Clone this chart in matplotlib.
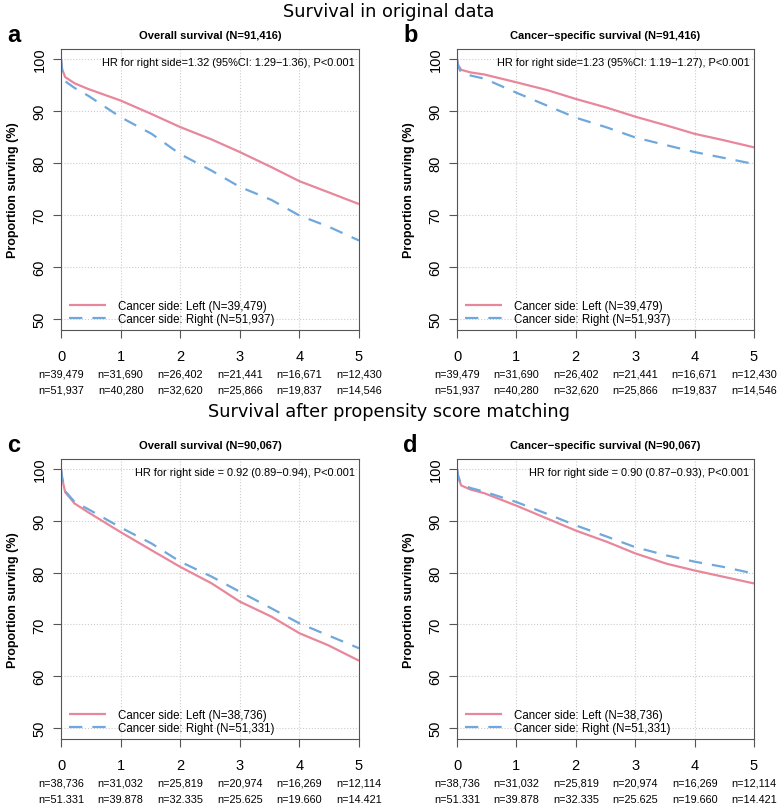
import numpy as np
import matplotlib
matplotlib.use("Agg")
import matplotlib.pyplot as plt

plt.rcParams['font.family'] = ['Liberation Sans', 'DejaVu Sans']

# time points (years)
t_pts = [0, 0.02, 0.07, 0.23, 0.46, 1, 1.52, 2, 2.53, 3, 3.53, 4, 4.48, 5]

# a: overall survival, original data
a_left = [100, 98.0, 96.5, 95.3, 94.2, 92.0, 89.4, 86.9, 84.5, 82.1, 79.2, 76.5, 74.4, 72.1]
a_right = [100, 97.6, 95.7, 94.4, 92.9, 88.8, 85.6, 81.7, 78.5, 75.4, 72.9, 69.9, 67.8, 65.1]
# b: cancer-specific survival, original data
b_left = [100, 98.8, 97.9, 97.4, 97.0, 95.5, 94.0, 92.3, 90.6, 88.9, 87.2, 85.6, 84.4, 83.0]
b_right = [100, 98.5, 97.4, 96.8, 96.2, 93.5, 91.0, 88.7, 86.8, 84.9, 83.4, 82.1, 81.0, 79.8]
# c: overall survival, matched
c_left = [100, 98.1, 95.5, 93.3, 91.6, 87.8, 84.3, 81.1, 77.9, 74.4, 71.5, 68.3, 66.0, 63.0]
c_right = [100, 98.3, 95.7, 93.6, 92.2, 88.7, 85.6, 82.1, 79.2, 76.3, 73.1, 70.2, 67.9, 65.4]
# d: cancer-specific survival, matched
d_left = [100, 98.4, 96.8, 96.0, 95.3, 92.9, 90.4, 88.1, 85.9, 83.7, 81.7, 80.4, 79.2, 77.9]
d_right = [100, 98.6, 97.0, 96.3, 95.6, 93.6, 91.3, 89.1, 86.9, 84.9, 83.3, 82.1, 81.1, 79.8]

years = [0, 1, 2, 3, 4, 5]
risk_orig_left = ["39,479", "31,690", "26,402", "21,441", "16,671", "12,430"]
risk_orig_right = ["51,937", "40,280", "32,620", "25,866", "19,837", "14,546"]
risk_psm_left = ["38,736", "31,032", "25,819", "20,974", "16,269", "12,114"]
risk_psm_right = ["51,331", "39,878", "32,335", "25,625", "19,660", "14,421"]

pink = '#E8879C'
blue = '#6FA8DC'

panels = [
    ("a", "Overall survival (N=91,416)", "HR for right side=1.32 (95%CI: 1.29\u22121.36), P<0.001",
     a_left, a_right, "39,479", "51,937", risk_orig_left, risk_orig_right),
    ("b", "Cancer\u2212specific survival (N=91,416)", "HR for right side=1.23 (95%CI: 1.19\u22121.27), P<0.001",
     b_left, b_right, "39,479", "51,937", risk_orig_left, risk_orig_right),
    ("c", "Overall survival (N=90,067)", "HR for right side = 0.92 (0.89\u22120.94), P<0.001",
     c_left, c_right, "38,736", "51,331", risk_psm_left, risk_psm_right),
    ("d", "Cancer\u2212specific survival (N=90,067)", "HR for right side = 0.90 (0.87\u22120.93), P<0.001",
     d_left, d_right, "38,736", "51,331", risk_psm_left, risk_psm_right),
]

W, H = 778, 804
fig = plt.figure(figsize=(W / 100, H / 100), dpi=100)

# axes boxes in pixels: (left, top, right, bottom)
boxes = [(61, 50, 359, 331), (457, 50, 754, 331), (61, 460, 359, 740), (457, 460, 754, 740)]

for (lab, title, hr, yl, yr, nl, nr, rl, rr), (x0, y0, x1, y1) in zip(panels, boxes):
    ax = fig.add_axes([x0 / W, 1 - y1 / H, (x1 - x0) / W, (y1 - y0) / H])
    ax.plot(t_pts, yl, color=pink, lw=1.6, solid_capstyle='butt',
            label=f"Cancer side: Left (N={nl})")
    ax.plot(t_pts, yr, color=blue, lw=1.6, dashes=(6, 4.5),
            label=f"Cancer side: Right (N={nr})")
    ax.set_xlim(0, 5)
    ax.set_ylim(47.9, 101.9)
    ax.set_xticks(years)
    ax.set_yticks([50, 60, 70, 80, 90, 100])
    ax.grid(True, ls=':', color='#CCCCCC', lw=0.8)
    ax.set_axisbelow(True)
    for s in ax.spines.values():
        s.set_color('#555555')
        s.set_linewidth(0.8)
    ax.tick_params(axis='x', length=5.5, width=0.8, color='#555555', labelsize=10.5, pad=8)
    ax.tick_params(axis='y', length=5.5, width=0.8, color='#555555', labelsize=10.5, pad=5)
    plt.setp(ax.get_yticklabels(), rotation=90, va='center')
    ax.set_ylabel("Proportion surving (%)", fontsize=9, fontweight='bold', labelpad=10)
    ax.set_title(title, fontsize=8, fontweight='bold', pad=8)
    ax.text(0.985, 0.952, hr, transform=ax.transAxes, ha='right', va='center', fontsize=7.9)
    ax.legend(loc='lower left', frameon=False, fontsize=8.3, handlelength=3.2,
              handletextpad=1.0, labelspacing=0.15, borderaxespad=0.0,
              bbox_to_anchor=(0.012, 0.0))
    for x, a, b in zip(years, rl, rr):
        ax.annotate(f"n={a}", xy=(x, 0), xycoords=('data', 'axes fraction'),
                    xytext=(0, -31), textcoords='offset points',
                    ha='center', va='center', fontsize=7.8, annotation_clip=False)
        ax.annotate(f"n={b}", xy=(x, 0), xycoords=('data', 'axes fraction'),
                    xytext=(0, -42.5), textcoords='offset points',
                    ha='center', va='center', fontsize=7.8, annotation_clip=False)
    fig.text((x0 - 54) / W, 1 - 35 / H if y0 < 100 else 1 - 446 / H, lab,
             fontsize=17, fontweight='bold', ha='left', va='center')

fig.text(0.5, 1 - 12 / H, "Survival in original data", ha='center', va='center',
         fontsize=12.8, family='DejaVu Sans')
fig.text(0.5, 1 - 412 / H, "Survival after propensity score matching", ha='center',
         va='center', fontsize=12.8, family='DejaVu Sans')

fig.savefig("out.png", dpi=100)
